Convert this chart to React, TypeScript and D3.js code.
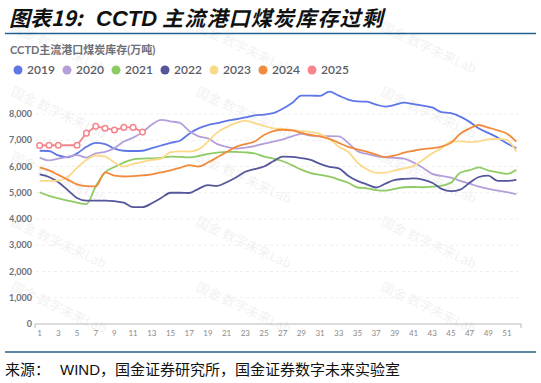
import React from "react";
import * as d3 from "d3";

const weeks = [1,2,3,4,5,6,7,8,9,10,11,12,13,14,15,16,17,18,19,20,21,22,23,24,25,26,27,28,29,30,31,32,33,34,35,36,37,38,39,40,41,42,43,44,45,46,47,48,49,50,51,52];
const years = ["2019","2020","2021","2022","2023","2024","2025"];
const yTicks = [0,1000,2000,3000,4000,5000,6000,7000,8000];

const s2019 = [6600,6590,6420,6350,6500,6750,6900,6850,6680,6600,6590,6600,6700,6800,6900,6980,7250,7450,7580,7650,7740,7800,7870,7950,7980,8030,8200,8420,8700,8700,8690,8850,8700,8550,8480,8470,8360,8280,8350,8430,8380,8320,8250,8070,8030,7900,7700,7450,7280,7100,6880,6700];
const s2020 = [6340,6230,6300,6370,6430,6340,6500,6560,6700,6950,7100,7300,7600,7780,7720,7660,7350,7150,7070,6850,6750,6680,6720,6780,6870,6950,7030,7150,7240,7180,7150,7160,7150,6900,6580,6480,6400,6350,6330,6300,6150,5950,5720,5640,5580,5450,5350,5230,5150,5080,5020,4950];
const s2021 = [5020,4880,4790,4700,4620,4570,5250,5780,5980,6150,6270,6300,6310,6330,6380,6370,6350,6400,6480,6530,6560,6560,6540,6500,6380,6300,6200,6050,5880,5750,5680,5610,5500,5380,5200,5170,5100,5080,5150,5210,5220,5210,5230,5270,5380,5760,5860,5970,5850,5780,5720,5880];
const s2022 = [5700,5600,5400,5100,4800,4700,4700,4700,4680,4620,4450,4450,4600,4800,5000,5000,4990,5150,5290,5260,5400,5580,5800,5900,6000,6200,6380,6370,6320,6250,6100,5990,5930,5650,5450,5320,5200,5350,5490,5530,5550,5500,5380,5150,5060,5120,5380,5600,5650,5450,5450,5490];
const s2023 = [5450,5450,5460,5600,5950,6250,6420,6380,6150,6000,6100,6180,6250,6300,6550,6580,6570,6650,6950,7300,7500,7650,7750,7650,7550,7450,7420,7390,7350,7320,7230,7050,6750,6560,6150,5900,5760,5770,5850,5930,6020,6250,6500,6700,6950,6960,6930,6960,7030,7050,7010,6570];
const s2024 = [5970,5850,5680,5500,5320,5250,5240,5780,5650,5620,5630,5660,5700,5780,5850,5950,6050,6000,6150,6350,6550,6750,6850,6950,7200,7350,7400,7380,7280,7200,7150,7050,6900,6750,6650,6570,6450,6360,6420,6530,6600,6660,6700,6760,6900,7250,7450,7580,7480,7380,7250,6950];
const s2025: (number | null)[] = [6800,6810,6810,null,6810,7270,7530,7460,7390,7490,7490,7310];

const seriesList = [s2019, s2020, s2021, s2022, s2023, s2024, s2025];
const colors = ["#5f77e6","#b49fdb","#8fcb64","#55579a","#fbd98a","#f28a3c","#f5858b"];

export default function App() {
  const x = d3.scaleBand<number>().domain(weeks).range([35, 521]);
  const y = d3.scaleLinear().domain([0, 8000]).range([324, 114]);
  const cx = (w: number) => (x(w) as number) + x.bandwidth() / 2;

  const smooth = d3.line<[number, number]>().x(d => cx(d[0])).y(d => y(d[1])).curve(d3.curveMonotoneX);
  const straight = d3.line<[number, number]>().x(d => cx(d[0])).y(d => y(d[1]));

  const wm: { x: number; y: number }[] = [];
  [0, 185, 370].forEach(wx => [30, 95, 160, 225, 290].forEach(wy => wm.push({ x: wx, y: wy })));

  const font = "Lato, 'Noto Sans CJK SC', sans-serif";
  const cjk = "'Noto Sans CJK SC', sans-serif";

  return (
    <svg width={541} height={383} style={{ position: "absolute", left: 0, top: 0, background: "#fff" }}>
      <rect x={0} y={0} width={541} height={383} fill="#fff" />
      <text y={26} fontFamily={cjk} fontSize={21} fontWeight={700} fontStyle="italic" fill="#111">
        <tspan x={9}>图表19:</tspan>
        <tspan x={96} fontFamily="Arial, 'Liberation Sans', sans-serif" fontSize={22}>CCTD</tspan>
        <tspan x={162} letterSpacing={1.2}>主流港口煤炭库存过剩</tspan>
      </text>
      <line x1={5} x2={536} y1={33.5} y2={33.5} stroke="#22608f" strokeWidth={1.5} />

      {wm.map((p, i) => (
        <text key={i} transform={`translate(${p.x + 10},${p.y}) rotate(25)`} fontFamily={cjk} fontSize={13} fill="#000" opacity={0.05}>国金 数字未来Lab</text>
      ))}

      <text x={10} y={54} fontFamily={font} fontSize={11} fontWeight={700} fill="#6e7079">CCTD主流港口煤炭库存(万吨)</text>

      {years.map((yr, i) => (
        <g key={yr} transform={`translate(${18 + i * 49},70)`}>
          <circle cx={0} cy={0} r={4.5} fill={colors[i]} />
          <text x={9} y={4} fontFamily={font} fontSize={12} fontWeight={600} fill="#5a5b66">{yr}</text>
        </g>
      ))}

      {yTicks.map(t => (
        <g key={t}>
          {t > 0 && <line x1={36} x2={521} y1={y(t)} y2={y(t)} stroke="#eeeeee" strokeDasharray="3,3" />}
          <text x={32} y={y(t) + 3} textAnchor="end" fontFamily={font} fontSize={9} fontWeight={700} fill="#6e7079">{d3.format(",")(t)}</text>
        </g>
      ))}

      <line x1={35} x2={521} y1={324} y2={324} stroke="#b8b8b8" />
      <line x1={35} x2={35} y1={324} y2={328} stroke="#b8b8b8" />
      <line x1={521} x2={521} y1={324} y2={328} stroke="#b8b8b8" />
      {weeks.filter(w => w % 2 === 1).map(w => (
        <text key={w} x={cx(w)} y={336} textAnchor="middle" fontFamily={font} fontSize={8} fill="#8a8a8a">{w}</text>
      ))}

      {seriesList.slice(0, 6).map((s, i) => (
        <path key={i} d={smooth((s as number[]).map((v, j) => [weeks[j], v] as [number, number])) || ""} fill="none" stroke={colors[i]} strokeWidth={1.8} />
      ))}
      {(() => {
        const pts = s2025.map((v, j) => [weeks[j], v]).filter(d => d[1] != null) as [number, number][];
        return (
          <g>
            <path d={straight(pts) || ""} fill="none" stroke={colors[6]} strokeWidth={1.8} />
            {pts.map((p, k) => (
              <circle key={k} cx={cx(p[0])} cy={y(p[1])} r={2.8} fill="#fff" stroke={colors[6]} strokeWidth={1.5} />
            ))}
          </g>
        );
      })()}

      <line x1={5} x2={536} y1={352} y2={352} stroke="#22608f" strokeWidth={1.5} />
      <text x={5} y={375} fontFamily={cjk} fontSize={15} fill="#111">
        来源：<tspan dx={10} fontFamily="Arial, 'Liberation Sans', sans-serif">WIND</tspan>，国金证券研究所，国金证券数字未来实验室
      </text>
    </svg>
  );
}
